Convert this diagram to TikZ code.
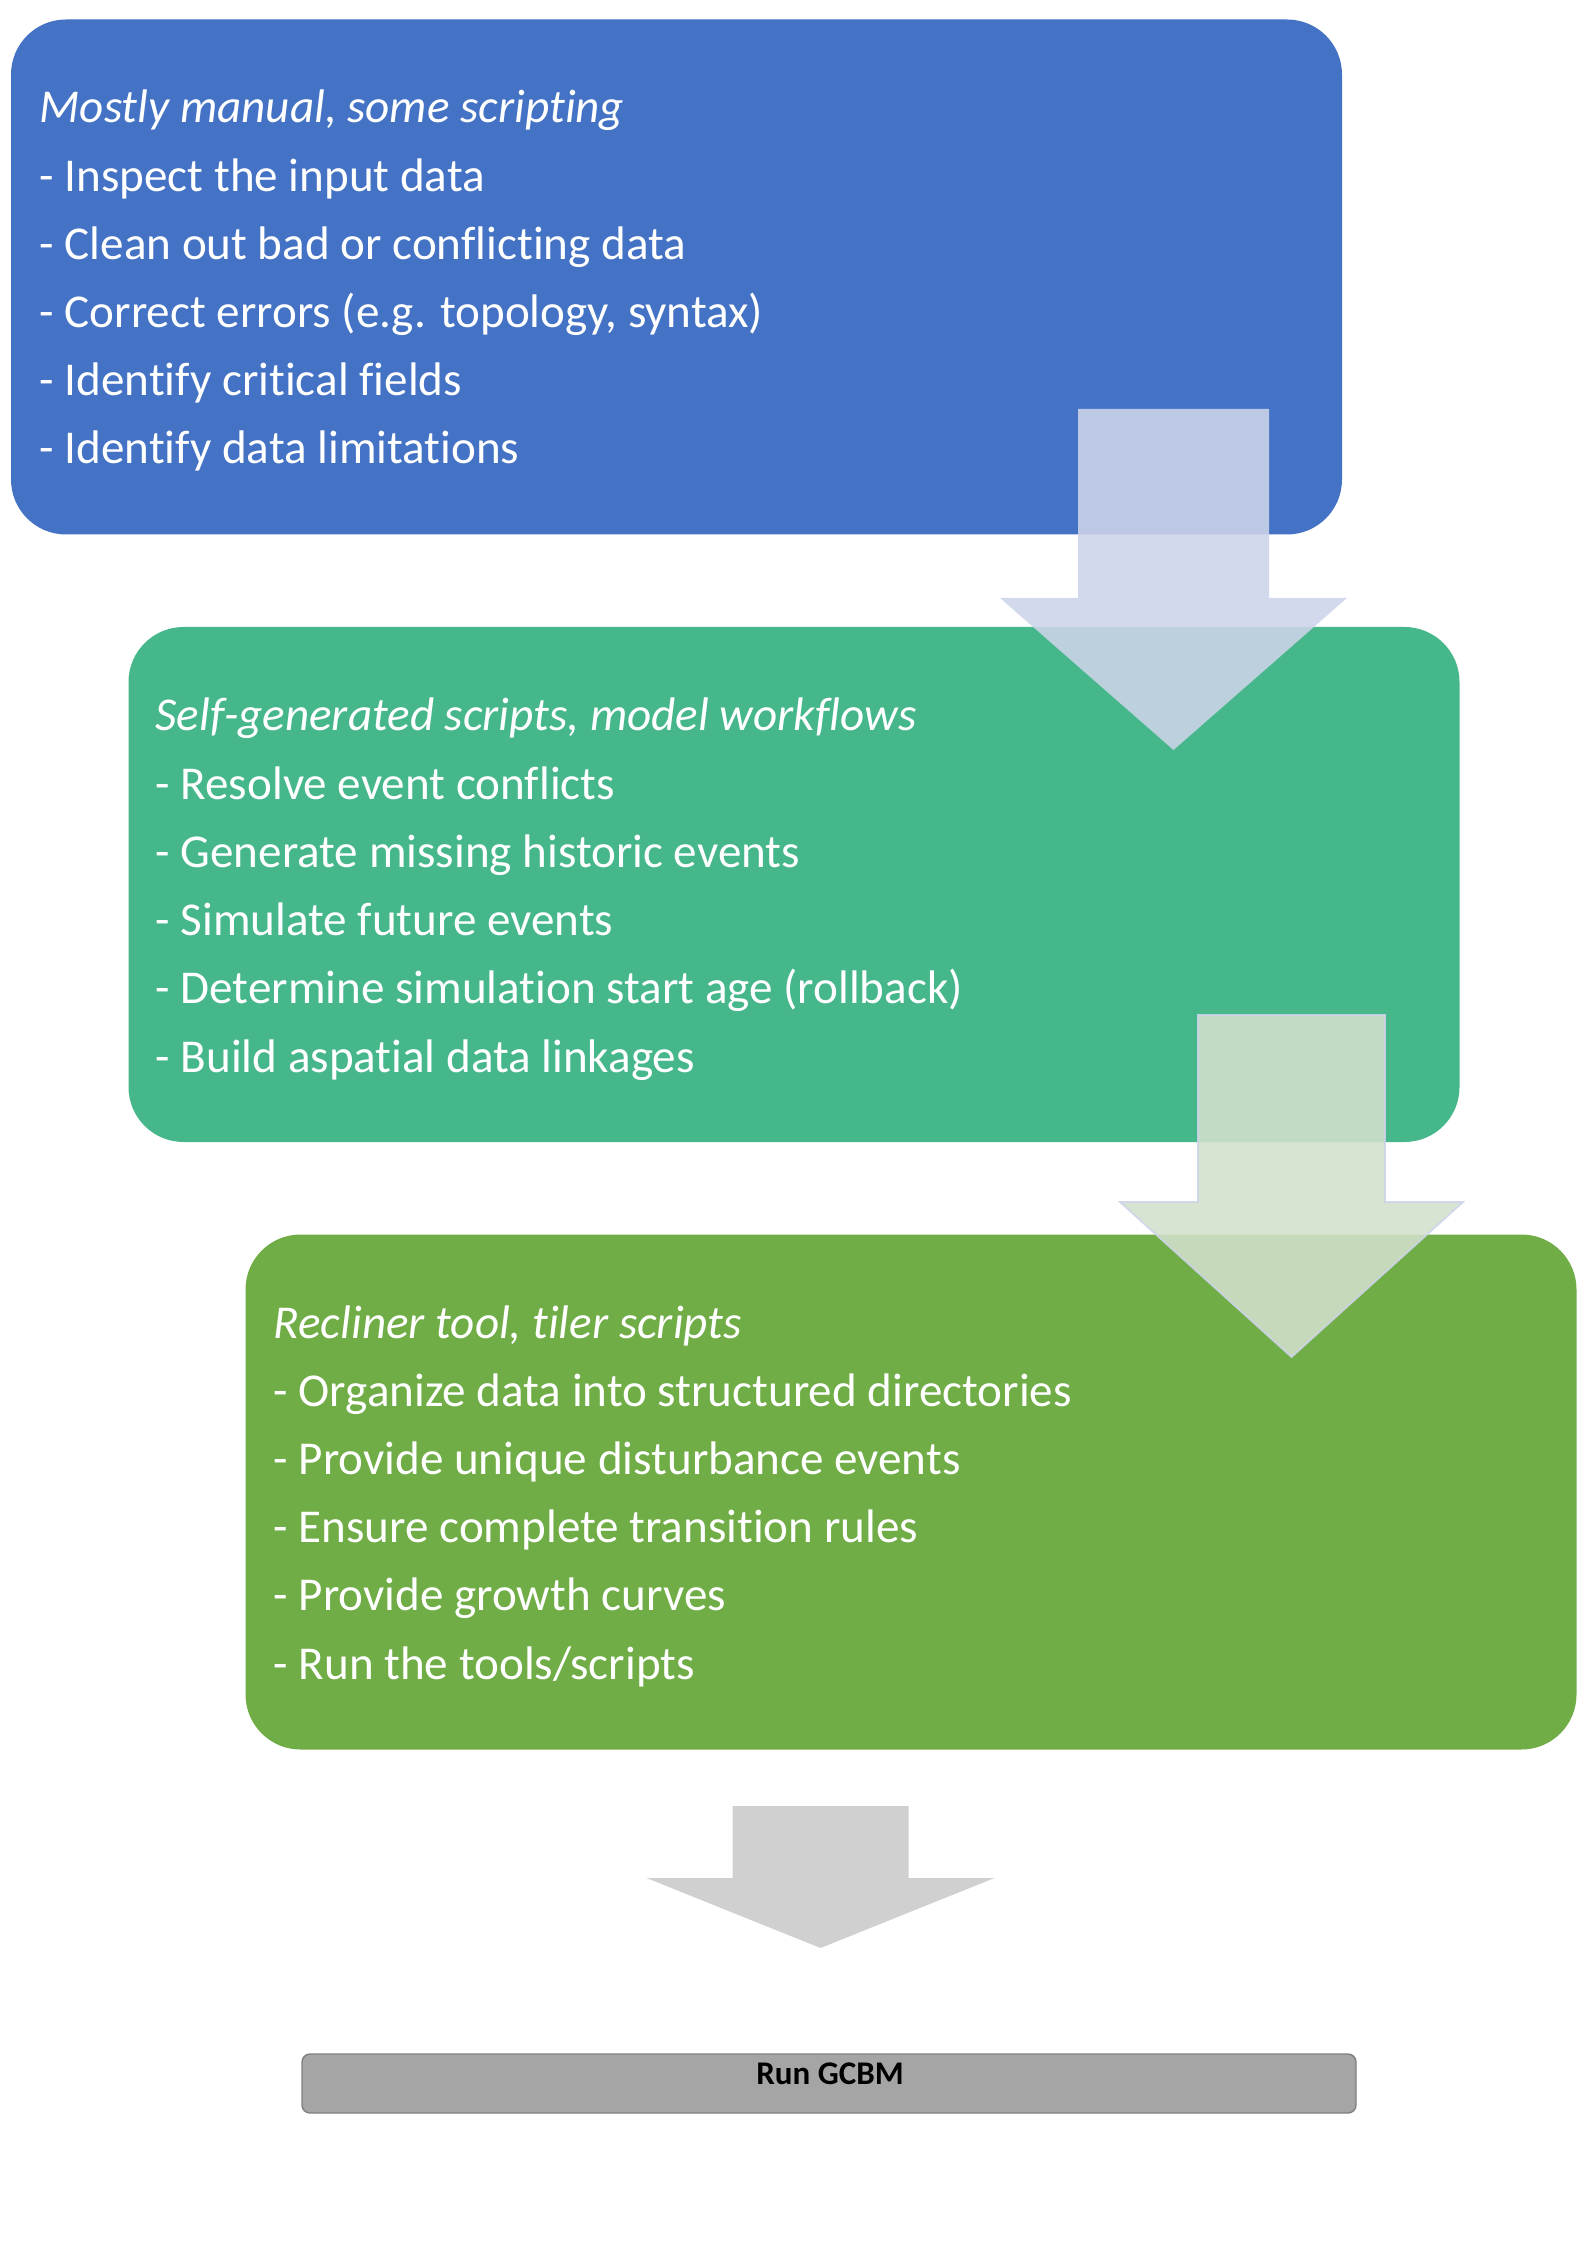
\documentclass[tikz,border=0pt]{standalone}
\usepackage{fontspec}
\setmainfont{Carlito}[Ligatures=NoCommon]
\usepackage{xcolor}
\usepackage{tikz}
\usetikzlibrary{calc}

\definecolor{boxblue}{HTML}{4472C4}
\definecolor{boxteal}{HTML}{45B78B}
\definecolor{boxgreen}{HTML}{70AD47}
\definecolor{arrowlav}{RGB}{205,212,233}
\definecolor{arrowsage}{RGB}{211,224,204}
\definecolor{arrowgray}{HTML}{D0D0D0}
\definecolor{bargray}{HTML}{A5A5A5}
\definecolor{baredge}{HTML}{7F7F7F}

\tikzset{
  stagebox/.style={rounded corners=5.5mm, minimum width=133.1mm, minimum height=51.5mm, inner sep=0pt},
  steptext/.style={anchor=base west, inner sep=0pt, text=white, font=\fontsize{13.4pt}{16pt}\selectfont},
  runbar/.style={fill=bargray, draw=baredge, line width=0.4pt, rounded corners=0.8mm,
    minimum width=105.4mm, minimum height=5.9mm, inner sep=0pt}
}

% block arrow: style, centre x, top, base of head, tip, half shaft, half head
\newcommand{\blockarrow}[7]{%
  \filldraw[#1] (#2-#6,#3) -- (#2+#6,#3) -- (#2+#6,#4) -- (#2+#7,#4) -- (#2,#5)
    -- (#2-#7,#4) -- (#2-#6,#4) -- cycle;}

\begin{document}
\begin{tikzpicture}[x=0.1mm,y=-0.1mm]
    \useasboundingbox (0,0) rectangle (1587,2245);

    \node[stagebox,fill=boxblue] (manual) at (676.5,277) {};
    \node[stagebox,fill=boxteal] (scripts) at (794,884.5) {};
    \node[stagebox,fill=boxgreen] (tiler) at (911,1492) {};

    \foreach \line [count=\i from 0] in {{\itshape Mostly manual, some scripting},
        - Inspect the input data, - Clean out bad or conflicting data,
        {- Correct errors (e.g. topology, syntax)}, - Identify critical fields,
        - Identify data limitations}
        \node[steptext] (manual-\i) at (39,123+68.2*\i) {\line};

    \foreach \line [count=\i from 0] in {{\itshape Self-generated scripts, model workflows},
        - Resolve event conflicts, - Generate missing historic events,
        - Simulate future events, - Determine simulation start age (rollback),
        - Build aspatial data linkages}
        \node[steptext] (scripts-\i) at (155,731+68.2*\i) {\line};

    \foreach \line [count=\i from 0] in {{\itshape Recliner tool, tiler scripts},
        - Organize data into structured directories, - Provide unique disturbance events,
        - Ensure complete transition rules, - Provide growth curves,
        - Run the tools/scripts}
        \node[steptext] (tiler-\i) at (273,1338+68.2*\i) {\line};

    \blockarrow{fill=arrowlav,draw=none,opacity=0.88}{1173.5}{409}{598}{750}{95.5}{173.5}
    \blockarrow{fill=arrowsage,draw=arrowlav,line width=0.5pt,opacity=0.88}{1291.5}{1015}{1202}{1357}{93.5}{171.5}
    \blockarrow{fill=arrowgray,draw=none}{820.5}{1806}{1878}{1948}{88}{174}

    \node[runbar] (gcbm) at (829,2083.5) {};
    \node[anchor=base, inner sep=0pt, font=\fontsize{9.4pt}{11pt}\selectfont\bfseries] (gcbm-text) at (830,2084) {Run GCBM};
\end{tikzpicture}
\end{document}
